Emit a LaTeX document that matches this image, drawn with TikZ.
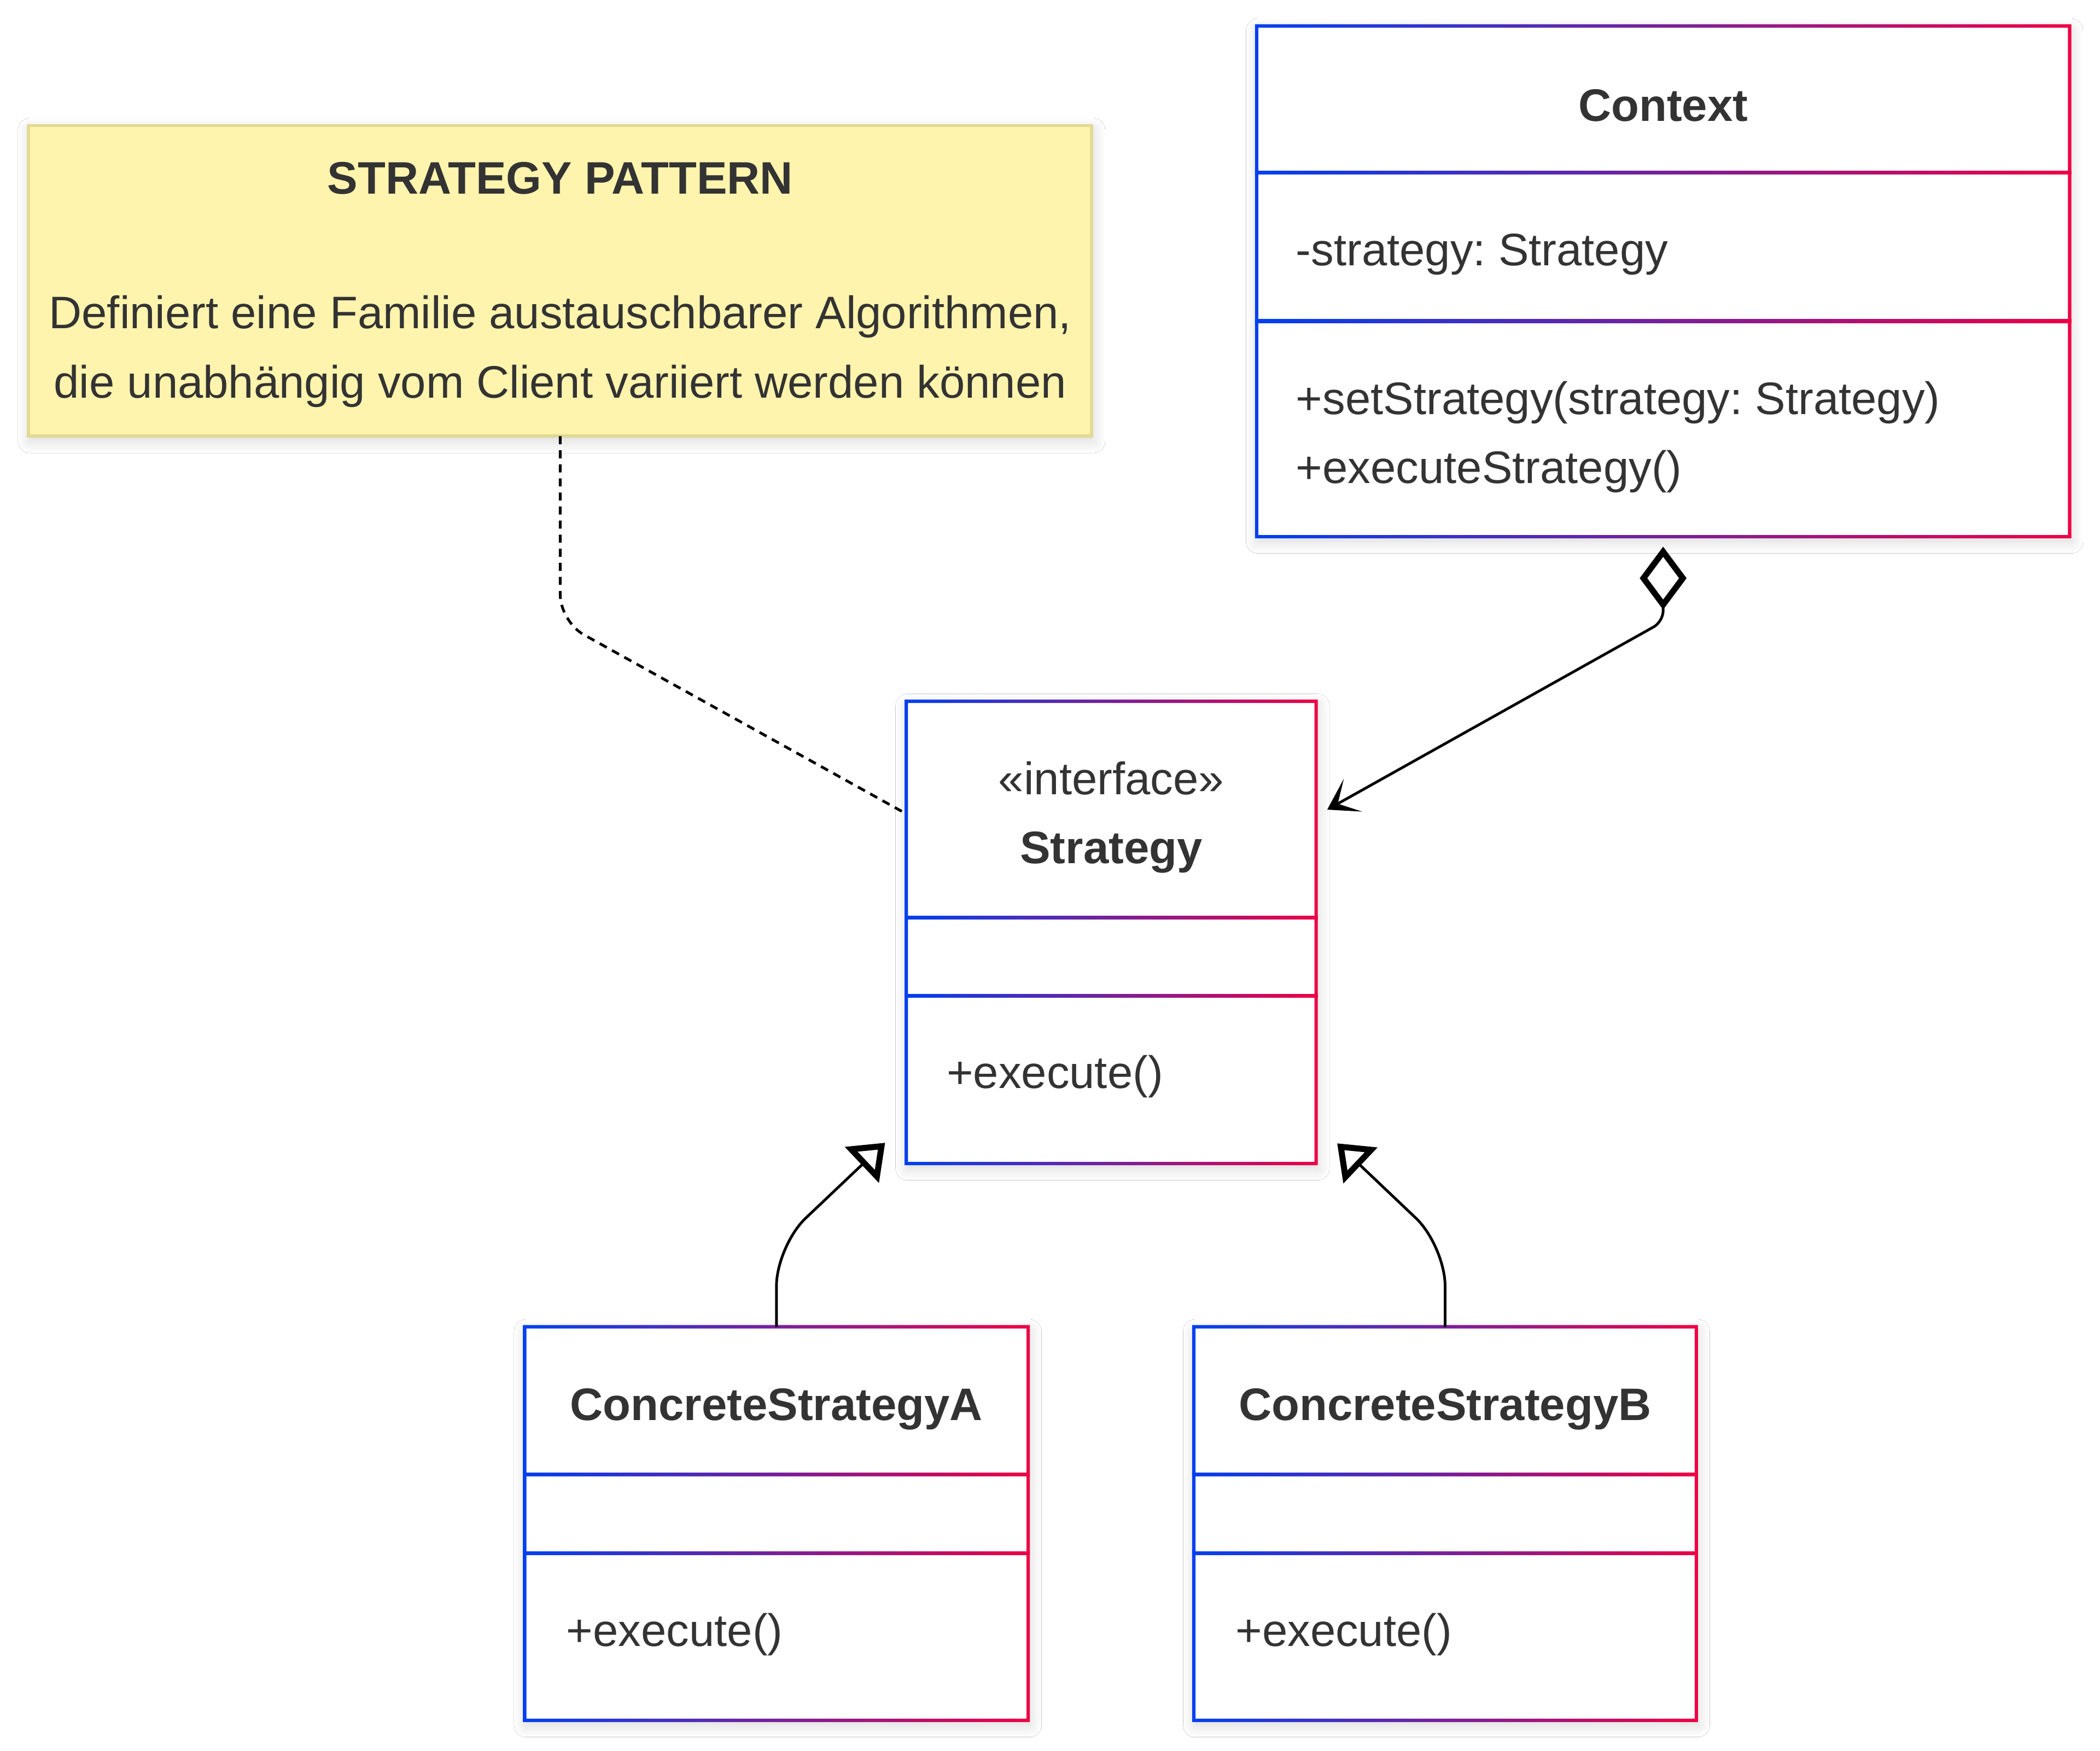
\documentclass[tikz,border=0pt]{standalone}
\usepackage{fontspec}
\setmainfont{Liberation Sans}
\frenchspacing
\usetikzlibrary{arrows.meta,calc,shadows.blur}
\definecolor{cblue}{RGB}{0,64,240}
\definecolor{cred}{RGB}{238,0,68}
\definecolor{ctext}{HTML}{333333}
\definecolor{notefill}{HTML}{FFF4AD}
\definecolor{notedraw}{HTML}{E2D993}
\tikzset{
  softshadow/.style={blur shadow={shadow xshift=1pt, shadow yshift=-3.5pt, shadow blur radius=9pt, shadow blur steps=20, shadow opacity=16}},
  classbox/.style={rectangle, draw=none, fill=white, inner sep=0pt, outer sep=0pt, softshadow},
  notebox/.style={rectangle, draw=notedraw, line width=2.4pt, fill=notefill, inner sep=0pt, outer sep=0pt, softshadow},
  txtl/.style={anchor=base west, inner sep=0pt, text=ctext, font=\fontsize{34}{40}\selectfont},
  txtc/.style={anchor=base, inner sep=0pt, text=ctext, font=\fontsize{34}{40}\selectfont},
  txtb/.style={anchor=base, inner sep=0pt, text=ctext, font=\fontsize{34}{40}\selectfont\bfseries},
  conn/.style={draw=black, line width=2pt},
  ring/.style={left color=cblue, right color=cred, even odd rule},
  divider/.style={left color=cblue, right color=cred},
}
\newcommand\gradring[1]{%
  \shade[ring] ($(#1.north west)+(-1.25,-1.25)$) rectangle ($(#1.south east)+(1.25,1.25)$)
               ($(#1.north west)+(1.25,1.25)$) rectangle ($(#1.south east)+(-1.25,-1.25)$);}
\newcommand\graddiv[2]{%
  \shade[divider] (#1.west |- 0,#2) ++(-1.25,-1.25) rectangle ($(#1.east |- 0,#2)+(1.25,1.25)$);}
\begin{document}
\begin{tikzpicture}[x=1pt,y=-1pt]
\fill[white] (0,0) rectangle (1568,1306.67);
\useasboundingbox (0,0) rectangle (1568,1306.67);

% note
\node[notebox, minimum width=793.8pt, minimum height=231.9pt] (note) at (418.3,209.65) {};
\node[txtb] (noteT) at (418.3,144.6) {STRATEGY PATTERN};
\node[txtc] (noteL1) at (418.3,245) {Definiert eine Familie austauschbarer Algorithmen,};
\node[txtc] (noteL2) at (418.3,297) {die unabhängig vom Client variiert werden können};

% Context
\node[classbox, minimum width=607pt, minimum height=381.2pt] (ctx) at (1241.8,210) {};
\gradring{ctx}
\graddiv{ctx}{129}
\graddiv{ctx}{239.7}
\node[txtb] (ctxT) at (1241.8,90.6) {Context};
\node[txtl] (ctxA) at (967.5,198.4) {-strategy: Strategy};
\node[txtl] (ctxM1) at (967.5,309.3) {+setStrategy(strategy: Strategy)};
\node[txtl] (ctxM2) at (967.5,360.9) {+executeStrategy()};

% Strategy
\node[classbox, minimum width=306pt, minimum height=345.1pt] (str) at (829.7,696) {};
\gradring{str}
\graddiv{str}{684.8}
\graddiv{str}{743.5}
\node[txtc] (strS) at (829.7,593.2) {«interface»};
\node[txtb] (strT) at (829.7,644.5) {Strategy};
\node[txtl] (strM) at (706.7,812.5) {+execute()};

% ConcreteStrategyA
\node[classbox, minimum width=375.9pt, minimum height=293.8pt] (ca) at (579.75,1137.3) {};
\gradring{ca}
\graddiv{ca}{1100.8}
\graddiv{ca}{1159.6}
\node[txtb] (caT) at (579.75,1060.2) {ConcreteStrategyA};
\node[txtl] (caM) at (422.8,1229) {+execute()};

% ConcreteStrategyB
\node[classbox, minimum width=375.2pt, minimum height=293.8pt] (cb) at (1079,1137.3) {};
\gradring{cb}
\graddiv{cb}{1100.8}
\graddiv{cb}{1159.6}
\node[txtb] (cbT) at (1079,1060.2) {ConcreteStrategyB};
\node[txtl] (cbM) at (922.4,1229) {+execute()};

% connectors
\coordinate (dashK) at (note.south |- 0,464);
\draw[conn, dash pattern=on 6pt off 4.5pt, rounded corners=20pt]
  (note.south) -- (dashK) -- (str.west |- 0,607.5);

\coordinate (aggS) at ($(ctx.south)+(0,7.5)$);
\coordinate (aggK) at (ctx.south |- 0,464);
\coordinate (aggE) at ($(str.north east)+(8.3,80.9)$);
\draw[conn, rounded corners=8pt,
  {Diamond[open, length=47pt, width=35pt, line width=4.5pt]}-{Stealth[length=22pt, width=28pt, inset=13pt]}]
  (aggS) -- (aggK) -- (aggE);

\coordinate (inhAK) at (ca.north |- 0,930);
\coordinate (inhAE) at ($(str.south west)+(-15.8,-15.5)$);
\draw[conn, rounded corners=30pt, -{Triangle[open, length=24pt, width=36pt, line width=4.5pt, fill=white]}]
  (ca.north) -- (inhAK) -- (inhAE);

\coordinate (inhBK) at (cb.north |- 0,930);
\coordinate (inhBE) at ($(str.south east)+(15.7,-15.1)$);
\draw[conn, rounded corners=30pt, -{Triangle[open, length=24pt, width=36pt, line width=4.5pt, fill=white]}]
  (cb.north) -- (inhBK) -- (inhBE);
\end{tikzpicture}
\end{document}
